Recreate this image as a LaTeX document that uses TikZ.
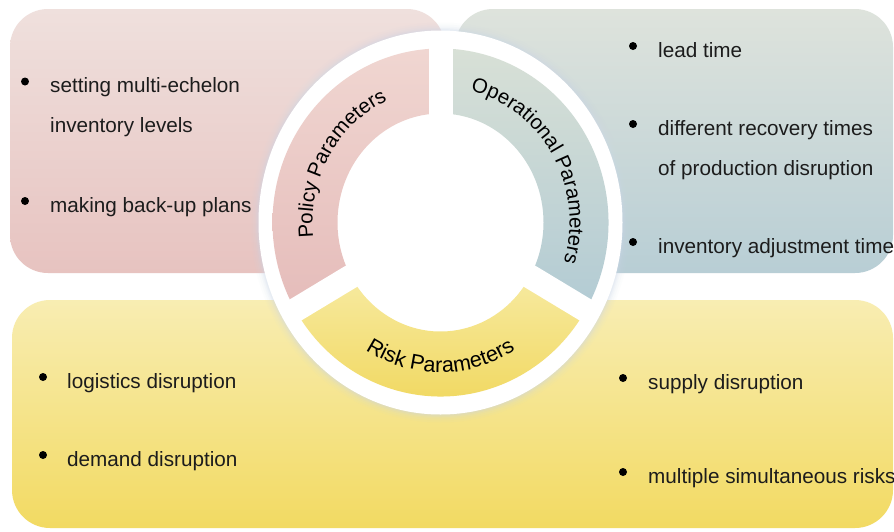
\documentclass[tikz,border=0pt]{standalone}
\usepackage{fontspec}
\setmainfont{Liberation Sans}
\usetikzlibrary{calc,decorations.text}
\definecolor{pinkTop}{RGB}{239,224,221}
\definecolor{pinkBot}{RGB}{231,195,192}
\definecolor{tealTop}{RGB}{222,227,220}
\definecolor{tealBot}{RGB}{184,206,213}
\definecolor{yelTop}{RGB}{248,237,178}
\definecolor{yelBot}{RGB}{242,218,98}
\definecolor{segPinkTop}{RGB}{240,214,209}
\definecolor{segPinkBot}{RGB}{229,188,186}
\definecolor{segTealTop}{RGB}{216,224,214}
\definecolor{segTealBot}{RGB}{178,203,212}
\definecolor{segYelTop}{RGB}{247,234,160}
\definecolor{segYelBot}{RGB}{240,214,88}
\definecolor{textc}{RGB}{28,28,28}
\definecolor{glowc}{RGB}{205,216,234}
\newcommand{\ringfont}{\fontsize{20.5}{24}\selectfont}
\newcommand{\riskfont}{\fontsize{21.5}{25}\selectfont}
\begin{document}
\begin{tikzpicture}[x=1pt,y=1pt,
  txt/.style={anchor=base west, inner sep=0pt, font=\fontsize{20.7}{24}\selectfont, text=textc},
  dot/.style={circle, fill=black, inner sep=0pt, minimum size=8pt},
  box/.style={rounded corners=38pt},
  gap/.style={white, line width=24pt, line cap=butt}]
\useasboundingbox (0,0) rectangle (894,-531);
\fill[white] (0,0) rectangle (894,-531);

% background boxes
\shade[box, top color=pinkTop, bottom color=pinkBot] (10,-9) rectangle (445,-273);
\shade[box, top color=tealTop, bottom color=tealBot] (455,-9) rectangle (893,-273);
\shade[box, top color=yelTop, bottom color=yelBot] (12,-300) rectangle (893,-528);

% white disk with soft glow
\coordinate (C) at (440.5,-222.5);
\foreach \d/\o in {8/0.05,6/0.07,4/0.1,2.5/0.14,1.2/0.2}
  \fill[glowc, opacity=\o] (C) ellipse[x radius=182+\d, y radius=192+\d];
\fill[white] (C) ellipse[x radius=182, y radius=192];

% ring segments
\shade[top color=segPinkTop, bottom color=segPinkBot]
  ($(C)+(90:168 and 174)$) arc[start angle=90, end angle=210, x radius=168, y radius=174]
  -- ($(C)+(210:103 and 109)$) arc[start angle=210, end angle=90, x radius=103, y radius=109] -- cycle;
\shade[top color=segTealTop, bottom color=segTealBot]
  ($(C)+(-30:168 and 174)$) arc[start angle=-30, end angle=90, x radius=168, y radius=174]
  -- ($(C)+(90:103 and 109)$) arc[start angle=90, end angle=-30, x radius=103, y radius=109] -- cycle;
\shade[top color=segYelTop, bottom color=segYelBot]
  ($(C)+(210:168 and 174)$) arc[start angle=210, end angle=330, x radius=168, y radius=174]
  -- ($(C)+(330:103 and 109)$) arc[start angle=330, end angle=210, x radius=103, y radius=109] -- cycle;

% gaps between segments
\foreach \a in {90,210,330}
  \draw[gap] (C) -- ($(C)+(\a:178 and 186)$);

% curved ring labels
\path[decorate, decoration={text along path, text align=center, text color=black,
      text={|\ringfont|Policy Parameters}}]
  ($(C)+(210:128 and 134)$) arc[start angle=210, end angle=90, x radius=128, y radius=134];
\path[decorate, decoration={text along path, text align=center, text color=black,
      text={|\ringfont|Operational Parameters}}]
  ($(C)+(90:129 and 135)$) arc[start angle=90, end angle=-30, x radius=129, y radius=135];
\path[decorate, decoration={text along path, text align=center, text color=black,
      text={|\riskfont|Risk Parameters}}]
  ($(C)+(215:142 and 150)$) arc[start angle=215, end angle=325, x radius=142, y radius=150];

% policy box texts
\node[dot] (pb1) at (25,-81.5) {};
\node[txt] (pt1) at (50,-92) {setting multi-echelon};
\node[txt] (pt1b) at (50,-132) {inventory levels};
\node[dot] (pb2) at (25,-201) {};
\node[txt] (pt2) at (50,-212) {making back-up plans};

% operational box texts
\node[dot] (ob1) at (633,-46) {};
\node[txt] (ot1) at (658,-57) {lead time};
\node[dot] (ob2) at (633,-124) {};
\node[txt] (ot2) at (658,-135) {different recovery times};
\node[txt] (ot2b) at (658,-175) {of production disruption};
\node[dot] (ob3) at (633,-242) {};
\node[txt] (ot3) at (658,-253) {inventory adjustment time};

% risk box texts
\node[dot] (rb1) at (43,-377) {};
\node[txt] (rt1) at (67,-388) {logistics disruption};
\node[dot] (rb2) at (43,-455) {};
\node[txt] (rt2) at (67,-466) {demand disruption};
\node[dot] (rb3) at (623,-378) {};
\node[txt] (rt3) at (648,-389) {supply disruption};
\node[dot] (rb4) at (623,-472) {};
\node[txt] (rt4) at (648,-483) {multiple simultaneous risks};
\end{tikzpicture}
\end{document}
